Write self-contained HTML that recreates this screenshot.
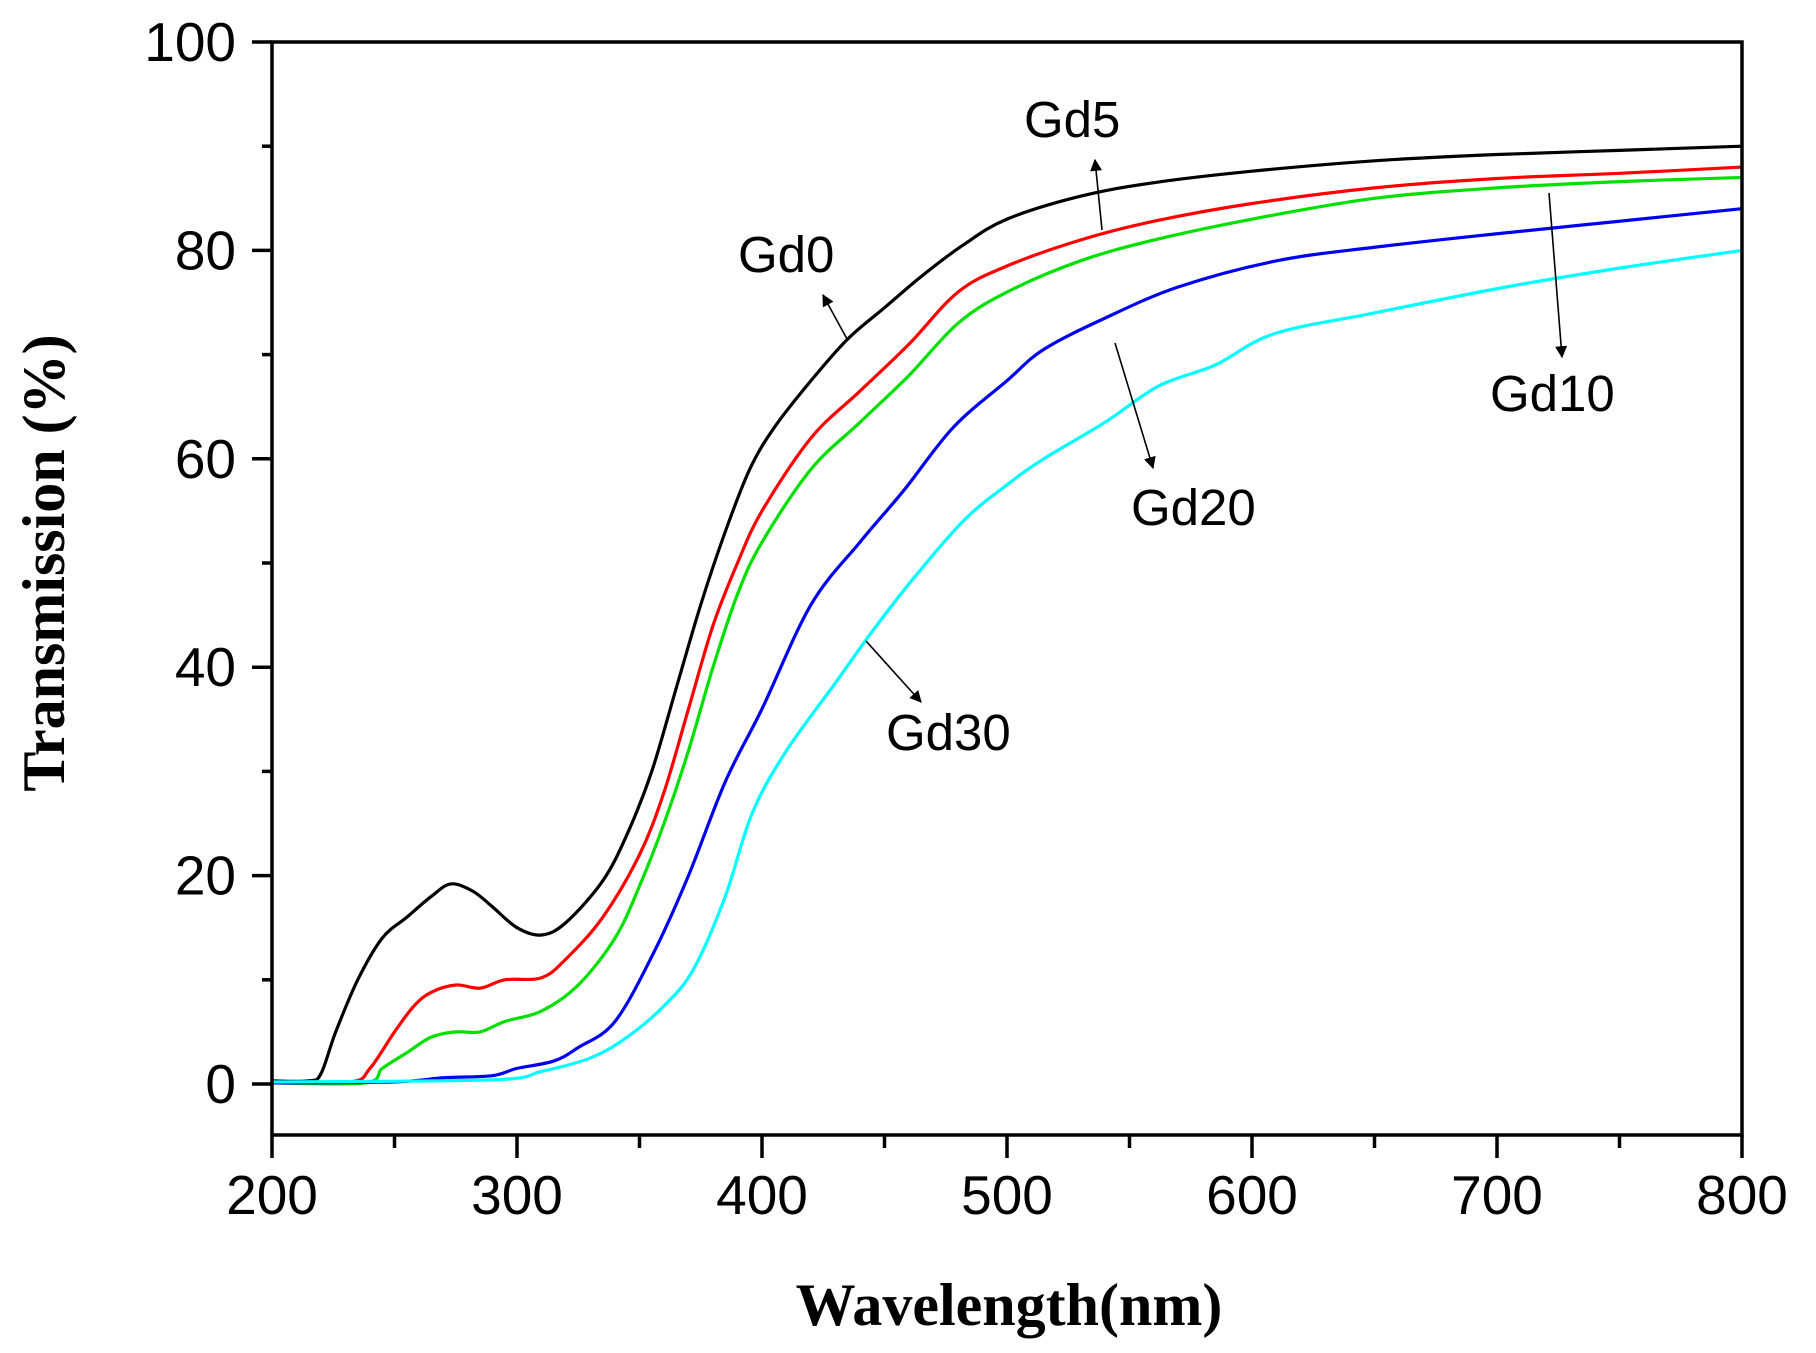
<!DOCTYPE html>
<html><head><meta charset="utf-8"><style>
html,body{margin:0;padding:0;background:#fff;}
svg{display:block;}
</style></head><body>
<svg id="s" width="1816" height="1353" viewBox="0 0 1816 1353" xmlns="http://www.w3.org/2000/svg">
<defs>
<marker id="ah" viewBox="0 0 10 10" refX="9" refY="5" markerWidth="14" markerHeight="12" markerUnits="userSpaceOnUse" orient="auto">
<path d="M0,0 L10,5 L0,10 z" fill="#000"/>
</marker>
</defs>
<g id="curves" fill="none" stroke-width="3.2" stroke-linejoin="round"></g>
<rect x="272" y="42" width="1470" height="1093" fill="none" stroke="#000" stroke-width="3.5"/>
<g id="ticks" stroke="#000" stroke-width="3.5"></g>
<g id="labels" font-family="Liberation Sans, Arial, sans-serif" font-size="55" fill="#000"></g>
<g font-family="Liberation Sans, Arial, sans-serif" font-size="51" fill="#000">
<text x="738" y="272">Gd0</text>
<text x="1024" y="137">Gd5</text>
<text x="1490" y="411">Gd10</text>
<text x="1131" y="525">Gd20</text>
<text x="886" y="750">Gd30</text>
</g>
<g stroke="#000" stroke-width="1.6" marker-end="url(#ah)">
<line x1="847" y1="339" x2="823" y2="295"/>
<line x1="1102" y1="230" x2="1095" y2="160"/>
<line x1="1549" y1="193" x2="1562" y2="357"/>
<line x1="1115" y1="343" x2="1153" y2="468"/>
<line x1="866" y1="641" x2="921" y2="702"/>
</g>
<text x="1009" y="1325" text-anchor="middle" font-family="Liberation Serif, Times New Roman, serif" font-weight="bold" font-size="60">Wavelength(nm)</text>
<text transform="translate(64,563) rotate(-90)" text-anchor="middle" font-family="Liberation Serif, Times New Roman, serif" font-weight="bold" font-size="60">Transmission (%)</text>
</svg>
<script>
var X=function(n){return 272+(n-200)*2.45;}, Y=function(v){return 1084-v*10.42;};
var NS="http://www.w3.org/2000/svg";
var data={
"#000000":[[200,0.3],[215,0.3],[220,1],[226,5],[235,10],[245,14],[255,16],[265,18],[273,19.2],[282,18.5],[290,17],[300,15],[310,14.3],[320,15.5],[335,19.5],[345,24],[355,30],[365,38],[375,46],[385,53],[395,59],[405,63],[420,67.5],[435,71.5],[450,74.5],[465,77.5],[482,80.5],[500,83],[530,85.2],[560,86.5],[600,87.6],[650,88.6],[700,89.2],[750,89.6],[800,90]],
"#ff0000":[[200,0.2],[232,0.2],[240,1.5],[250,5],[258,7.5],[265,8.8],[275,9.5],[285,9.2],[295,10],[310,10.2],[320,12],[335,16],[350,22],[360,28],[370,36],[380,44],[390,50],[400,55],[420,62],[440,66.5],[460,71],[480,76],[500,78.5],[530,81],[560,82.8],[600,84.5],[650,86],[700,86.9],[750,87.4],[800,88]],
"#00e000":[[200,0.1],[238,0.1],[245,1.5],[255,3],[265,4.5],[275,5],[285,5],[295,6],[310,7],[325,9.5],[340,14],[350,19],[360,25],[370,32],[380,40],[390,47],[400,52],[420,59],[440,63.5],[460,68],[480,73],[500,76],[530,79],[560,81],[600,83],[650,85],[700,86],[750,86.6],[800,87]],
"#0000ee":[[200,0.1],[250,0.2],[270,0.6],[290,0.8],[300,1.5],[315,2.2],[325,3.5],[340,6],[356,12.7],[370,20],[385,29],[400,36],[420,46],[440,52],[458,57],[478,63],[500,67.5],[515,70.5],[540,73.5],[570,76.5],[610,79],[650,80.3],[700,81.6],[750,82.8],[800,84]],
"#00ffff":[[200,0.2],[290,0.4],[310,1.2],[330,2.5],[345,4.5],[360,7.5],[372,11],[385,18],[396,26],[410,32],[430,38.5],[443,42.8],[460,48],[482,54],[500,57.5],[515,60],[540,63.5],[562,67],[585,69],[609,72],[650,74],[704,76.5],[750,78.3],[800,80]]
};
var g=document.getElementById("curves");
for(var c in data){var p=data[c].map(function(d){return [X(d[0]),Y(d[1])];});
var s="M"+p[0][0]+","+p[0][1];
for(var i=0;i<p.length-1;i++){var p0=p[i-1]||p[i],p1=p[i],p2=p[i+1],p3=p[i+2]||p2;
s+=" C"+(p1[0]+(p2[0]-p0[0])/6)+","+(p1[1]+(p2[1]-p0[1])/6)+" "+(p2[0]-(p3[0]-p1[0])/6)+","+(p2[1]-(p3[1]-p1[1])/6)+" "+p2[0]+","+p2[1];}
var e=document.createElementNS(NS,"path");e.setAttribute("d",s);e.setAttribute("stroke",c);g.appendChild(e);}
var t=document.getElementById("ticks"),l=document.getElementById("labels");
function ln(a,b,c,d){var e=document.createElementNS(NS,"line");e.setAttribute("x1",a);e.setAttribute("y1",b);e.setAttribute("x2",c);e.setAttribute("y2",d);t.appendChild(e);}
function tx(x,y,s,a){var e=document.createElementNS(NS,"text");e.setAttribute("x",x);e.setAttribute("y",y);e.setAttribute("text-anchor",a);e.textContent=s;l.appendChild(e);}
for(var n=200;n<=800;n+=50){var x=X(n);if(n%100==0){ln(x,1135,x,1158);tx(x,1214,n,"middle");}else ln(x,1135,x,1148);}
for(var v=0;v<=100;v+=10){var y=Y(v);if(v%20==0){ln(272,y,252,y);tx(236,y+19,v,"end");}else ln(272,y,262,y);}
</script>
</body></html>
